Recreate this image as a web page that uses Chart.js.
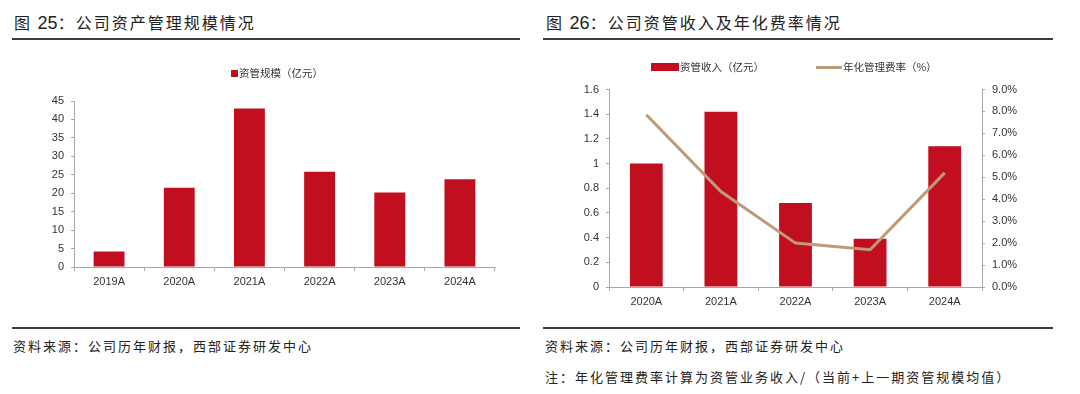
<!DOCTYPE html>
<html>
<head>
<meta charset="utf-8">
<script src="https://cdn.jsdelivr.net/npm/chart.js@4.4.1/dist/chart.umd.min.js"></script>
<style>
    body { margin: 0; width: 1080px; height: 394px; background: #fff; position: relative; overflow: hidden;
           font-family: "Noto Sans CJK SC", sans-serif; color: #222; }
    .title { position: absolute; top: 9px; font-size: 16px; letter-spacing: 2px; white-space: nowrap; line-height: 26px; }
    .title .num { font-family: "Liberation Sans", sans-serif; font-size: 18px; letter-spacing: 0; }
    .rule { position: absolute; height: 2px; background: #3c3c3c; }
    .note { position: absolute; font-size: 13px; letter-spacing: 2px; white-space: nowrap; line-height: 18px; color: #222; }
    .box { position: absolute; top: 40px; width: 540px; height: 290px; }
    .legend { position: absolute; font-size: 10.5px; line-height: 14px; white-space: nowrap; color: #333; }
    .legend span.sw { position: absolute; display: block; }
</style>
</head>
<body>

<div class="title" style="left:14px;">图 <span class="num">25</span>：公司资产管理规模情况</div>
<div class="rule" style="left:12px; top:38px; width:508px;"></div>
<div class="title" style="left:546px;">图 <span class="num">26</span>：公司资管收入及年化费率情况</div>
<div class="rule" style="left:543px; top:38px; width:510px;"></div>

<div class="box" style="left:0;"><canvas id="scaleChart"></canvas></div>
<div class="box" style="left:540px;"><canvas id="incomeChart"></canvas></div>

<div class="legend" id="scaleLegend"></div>
<div class="legend" id="incomeLegend"></div>

<div class="rule" style="left:12px; top:327px; width:508px;"></div>
<div class="rule" style="left:543px; top:327px; width:510px;"></div>
<div class="note" style="left:13px; top:337px;">资料来源：公司历年财报，西部证券研发中心</div>
<div class="note" style="left:545px; top:337px;">资料来源：公司历年财报，西部证券研发中心</div>
<div class="note" style="left:545px; top:368px;">注：年化管理费率计算为资管业务收入/（当前+上一期资管规模均值）</div>

<script>
// --- data ---
const scaleYears = ['2019A', '2020A', '2021A', '2022A', '2023A', '2024A'];
const scaleValues = [4.2, 21.5, 43.0, 25.8, 20.2, 23.8];      // 资管规模（亿元）
const scaleAxis = [0, 45, 5];                                   // min, max, step

const incomeYears = ['2020A', '2021A', '2022A', '2023A', '2024A'];
const incomeValues = [1.0, 1.42, 0.68, 0.39, 1.14];            // 资管收入（亿元）
const feeRates = [7.85, 4.35, 2.0, 1.7, 5.2];                  // 年化管理费率（%）
const incomeAxis = [0, 1.6, 0.2];
const feeAxis = [0, 9, 1];

const RED = '#c10f1f';
const TAN = '#bf9a78';
const AXIS = '#a8a8a8';
const tickFont = { family: '"Liberation Sans", Arial, sans-serif', size: 11 };

function xAxis() {
    return {
        grid: { offset: true, drawOnChartArea: false, tickLength: 4, color: AXIS },
        border: { color: AXIS },
        ticks: { font: tickFont, color: '#333', padding: 4, maxRotation: 0 },
        afterFit: s => { s.height = 28; }
    };
}

function yAxis(pos, range, width, fmt) {
    return {
        position: pos,
        min: range[0], max: range[1],
        grid: { drawOnChartArea: false, tickLength: 3, color: AXIS },
        border: { color: AXIS },
        ticks: { stepSize: range[2], font: tickFont, color: '#333', padding: 7, callback: fmt },
        afterFit: s => { s.width = width; }
    };
}

// --- 图25 ---
const scaleChart = new Chart(document.getElementById('scaleChart'), {
    type: 'bar',
    data: {
        labels: scaleYears,
        datasets: [{
            label: '资管规模（亿元）',
            data: scaleValues,
            backgroundColor: RED,
            categoryPercentage: 1,
            barPercentage: 0.44
        }]
    },
    options: {
        responsive: true,
        maintainAspectRatio: false,
        animation: false,
        layout: { padding: { left: 36, right: 45, top: 61, bottom: 35 } },
        scales: {
            x: xAxis(),
            y: yAxis('left', scaleAxis, 38, v => v)
        },
        plugins: { legend: { display: false }, tooltip: { enabled: false } }
    }
});

// --- 图26 ---
const incomeChart = new Chart(document.getElementById('incomeChart'), {
    type: 'bar',
    data: {
        labels: incomeYears,
        datasets: [{
            type: 'bar',
            label: '资管收入（亿元）',
            data: incomeValues,
            backgroundColor: RED,
            categoryPercentage: 1,
            barPercentage: 0.44,
            yAxisID: 'y',
            order: 1
        }, {
            type: 'line',
            label: '年化管理费率（%）',
            data: feeRates,
            borderColor: TAN,
            backgroundColor: TAN,
            borderWidth: 3,
            pointRadius: 0,
            tension: 0,
            yAxisID: 'y1',
            order: 0
        }]
    },
    options: {
        responsive: true,
        maintainAspectRatio: false,
        animation: false,
        layout: { padding: { left: 19, right: 40, top: 49.5, bottom: 15 } },
        scales: {
            x: xAxis(),
            y: yAxis('left', incomeAxis, 50, v => v),
            y1: yAxis('right', feeAxis, 58, v => v.toFixed(1) + '%')
        },
        plugins: { legend: { display: false }, tooltip: { enabled: false } }
    }
});

// --- legends built from the chart datasets ---
function buildLegend(el, chart, spots) {
    el.innerHTML = '';
    chart.data.datasets.forEach((ds, i) => {
        const s = spots[i];
        const sw = document.createElement('span');
        sw.className = 'sw';
        const isLine = ds.type === 'line';
        sw.style.cssText = `left:${s.x}px; top:${s.y - s.h / 2}px; width:${s.w}px; height:${s.h}px; background:${isLine ? ds.borderColor : ds.backgroundColor};`;
        el.appendChild(sw);
        const tx = document.createElement('span');
        tx.style.cssText = `position:absolute; left:${s.x + s.w + 1}px; top:${s.y - 7.5}px;`;
        tx.textContent = ds.label;
        el.appendChild(tx);
    });
}

buildLegend(document.getElementById('scaleLegend'), scaleChart, [{ x: 231, y: 73, w: 7, h: 7 }]);
buildLegend(document.getElementById('incomeLegend'), incomeChart, [
    { x: 651, y: 67, w: 28, h: 8 },
    { x: 816, y: 67, w: 26, h: 3 }
]);
</script>
</body>
</html>
